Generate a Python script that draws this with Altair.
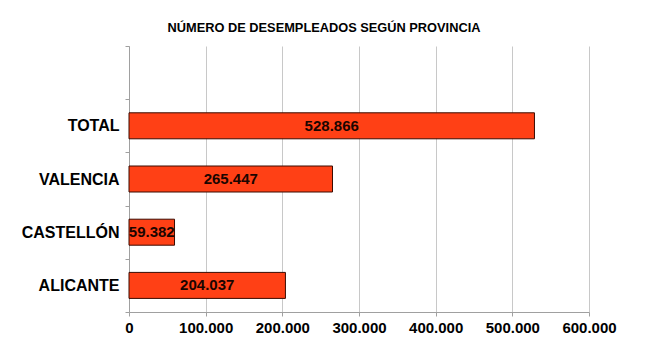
import altair as alt
import pandas as pd

categories = ["TOTAL", "VALENCIA", "CASTELLÓN", "ALICANTE"]
values = [528866, 265447, 59382, 204037]
domain = [" ", "TOTAL", "VALENCIA", "CASTELLÓN", "ALICANTE"]
x_ticks = [0, 100000, 200000, 300000, 400000, 500000, 600000]

df = pd.DataFrame({"provincia": categories, "valor": values})
df["etiqueta"] = [f"{v:,}".replace(",", ".") for v in values]
df["mitad"] = df["valor"] / 2

FONT = "Liberation Sans"
yscale = alt.Scale(domain=domain, paddingInner=0, paddingOuter=0)

y_enc = alt.Y(
    "provincia:N",
    scale=yscale,
    axis=alt.Axis(
        title=None, grid=False, tickBand="extent", domainColor="#a0a0a0",
        tickColor="#a0a0a0", tickSize=4, labelPadding=6, labelFont=FONT,
        labelFontSize=16, labelFontWeight="bold", labelColor="#000000",
        labelOverlap=False,
    ),
)

bars = alt.Chart(df).mark_bar(color="#FF4015", stroke="#3a0a00", strokeWidth=1, size=26).encode(
    x=alt.X(
        "valor:Q",
        scale=alt.Scale(domain=[0, 600000], nice=False),
        axis=alt.Axis(
            title=None, values=x_ticks, grid=True, gridColor="#c8c8c8",
            domainColor="#a0a0a0", tickColor="#a0a0a0", tickSize=4,
            labelPadding=4, labelFont=FONT, labelFontSize=15, labelFontWeight="bold",
            labelColor="#000000", labelOverlap=False, labelFlush=False,
            labelExpr="replace(format(datum.value, ','), ',', '.')",
        ),
    ),
    y=y_enc,
)

labels = alt.Chart(df).mark_text(
    font=FONT, fontSize=15, fontWeight="bold", color="#1a0500", align="center", baseline="middle"
).encode(
    x=alt.X("mitad:Q"),
    y=alt.Y("provincia:N", scale=yscale),
    text="etiqueta:N",
)

chart = (
    alt.layer(bars, labels)
    .properties(
        width=460,
        height=266,
        autosize=alt.AutoSizeParams(type="none"),
        padding={"left": 129, "top": 46, "right": 57, "bottom": 44},
        title=alt.TitleParams(
            "NÚMERO DE DESEMPLEADOS SEGÚN PROVINCIA", font=FONT, fontSize=12.8,
            fontWeight="bold", color="#000000", anchor="middle", dx=-35, offset=3,
        ),
        background="#ffffff",
    )
    .configure_view(stroke=None)
)

chart.save("out.html", embed_options={"renderer": "svg", "actions": False})
